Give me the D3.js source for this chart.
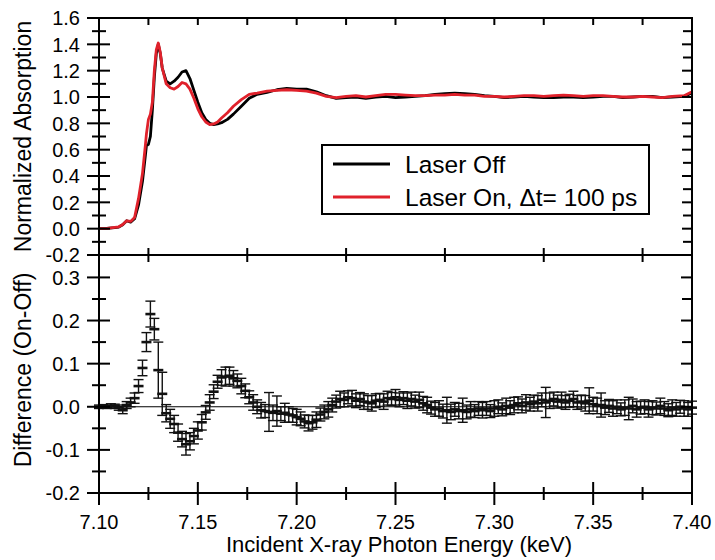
<!DOCTYPE html>
<html>
<head>
<meta charset="utf-8">
<script src="https://cdn.jsdelivr.net/npm/d3@7"></script>
<style>
  body { margin: 0; background: #fff; }
  text { font-family: "Liberation Sans", Arial, sans-serif; fill: #000; }
</style>
</head>
<body>
<div id="chart"></div>
<script>
// top panel: normalized absorption, laser off / laser on
const topE = [7.100, 7.104, 7.108, 7.110, 7.112, 7.114, 7.116, 7.118, 7.120, 7.122, 7.1235, 7.124, 7.125, 7.126, 7.127, 7.128, 7.129, 7.130, 7.131, 7.132, 7.134, 7.136, 7.138, 7.140, 7.142, 7.144, 7.146, 7.148, 7.150, 7.152, 7.154, 7.156, 7.158, 7.160, 7.162, 7.165, 7.168, 7.172, 7.176, 7.180, 7.185, 7.190, 7.195, 7.200, 7.205, 7.210, 7.215, 7.220, 7.225, 7.230, 7.235, 7.240, 7.245, 7.250, 7.255, 7.260, 7.265, 7.270, 7.275, 7.280, 7.285, 7.290, 7.295, 7.300, 7.305, 7.310, 7.315, 7.320, 7.325, 7.330, 7.335, 7.340, 7.345, 7.350, 7.355, 7.360, 7.365, 7.370, 7.375, 7.380, 7.385, 7.390, 7.396, 7.400];
const laserOff = [0.000, 0.002, 0.008, 0.012, 0.030, 0.060, 0.050, 0.075, 0.180, 0.360, 0.560, 0.630, 0.640, 0.700, 0.900, 1.150, 1.330, 1.400, 1.330, 1.220, 1.120, 1.100, 1.120, 1.150, 1.190, 1.200, 1.140, 1.050, 0.960, 0.880, 0.830, 0.800, 0.790, 0.795, 0.805, 0.830, 0.870, 0.930, 0.990, 1.020, 1.035, 1.055, 1.065, 1.060, 1.060, 1.040, 1.010, 0.990, 0.995, 1.000, 0.990, 1.000, 1.005, 0.995, 1.000, 1.005, 1.010, 1.020, 1.025, 1.030, 1.025, 1.020, 1.010, 1.005, 0.995, 1.000, 1.005, 1.000, 0.995, 0.995, 1.000, 1.000, 0.995, 1.000, 1.005, 1.005, 0.995, 1.000, 1.005, 1.005, 0.995, 1.000, 1.005, 1.030];
const laserOn = [0.000, 0.002, 0.010, 0.014, 0.032, 0.060, 0.055, 0.085, 0.230, 0.420, 0.640, 0.720, 0.830, 0.870, 0.960, 1.200, 1.360, 1.410, 1.340, 1.220, 1.100, 1.070, 1.060, 1.080, 1.110, 1.100, 1.060, 0.990, 0.910, 0.850, 0.810, 0.790, 0.795, 0.810, 0.840, 0.880, 0.930, 0.980, 1.020, 1.030, 1.045, 1.050, 1.055, 1.050, 1.045, 1.030, 1.005, 0.995, 1.005, 1.010, 1.000, 1.010, 1.020, 1.020, 1.015, 1.010, 1.010, 1.015, 1.015, 1.020, 1.015, 1.015, 1.005, 1.005, 1.000, 1.005, 1.010, 1.010, 1.005, 1.010, 1.015, 1.010, 1.005, 1.010, 1.010, 1.005, 1.000, 1.000, 1.005, 1.000, 0.995, 1.005, 1.010, 1.040];

// bottom panel: difference (on - off), 2 eV steps from 7.100 keV
const diffStart = 7.100;
const diffStep = 0.002;
const diffVal = [
  0.000, 0.001, 0.000, 0.002, 0.001, -0.002, -0.008, 0.004, 0.010, 0.020,
  0.048, 0.090, 0.150, 0.215, 0.180, 0.085, 0.030, -0.015, -0.028, -0.040,
  -0.060, -0.075, -0.087, -0.080, -0.068, -0.055, -0.036, -0.013, 0.010, 0.035,
  0.058, 0.068, 0.070, 0.072, 0.066, 0.060, 0.048, 0.037, 0.022, 0.010,
  0.000, -0.008, -0.010, -0.012, -0.014, -0.010, -0.016, -0.014, -0.018, -0.020,
  -0.024, -0.028, -0.034, -0.038, -0.036, -0.030, -0.018, -0.012, -0.006, 0.004,
  0.012, 0.018, 0.016, 0.022, 0.020, 0.014, 0.018, 0.012, 0.010, 0.008,
  0.014, 0.016, 0.012, 0.020, 0.018, 0.022, 0.016, 0.020, 0.014, 0.018,
  0.012, 0.016, 0.008, 0.004, -0.002, -0.006, -0.004, -0.010, -0.008, -0.012,
  -0.006, -0.010, -0.008, -0.012, -0.006, -0.010, -0.004, -0.008, -0.004, -0.010,
  -0.004, 0.000, -0.006, 0.002, -0.002, 0.004, 0.008, 0.002, 0.010, 0.006,
  0.012, 0.008, 0.016, 0.010, 0.014, 0.018, 0.012, 0.016, 0.010, 0.014,
  0.018, 0.010, 0.012, 0.008, 0.014, 0.006, 0.002, 0.004, -0.002, 0.002,
  -0.004, 0.000, -0.006, -0.002, -0.004, 0.002, -0.006, -0.002, 0.000, -0.006,
  -0.002, -0.004, 0.002, -0.004, -0.008, -0.002, -0.006, 0.000, -0.004, -0.006,
  -0.002];
const diffErr = [
  0.004, 0.004, 0.004, 0.005, 0.005, 0.006, 0.008, 0.008, 0.010, 0.012,
  0.015, 0.018, 0.022, 0.030, 0.025, 0.065, 0.050, 0.020, 0.022, 0.020,
  0.020, 0.018, 0.025, 0.020, 0.018, 0.020, 0.018, 0.016, 0.018, 0.016,
  0.015, 0.018, 0.022, 0.020, 0.018, 0.016, 0.018, 0.016, 0.015, 0.018,
  0.016, 0.018, 0.015, 0.045, 0.018, 0.035, 0.016, 0.022, 0.018, 0.016,
  0.018, 0.016, 0.015, 0.018, 0.016, 0.018, 0.015, 0.016, 0.018, 0.016,
  0.015, 0.018, 0.016, 0.015, 0.018, 0.016, 0.015, 0.018, 0.016, 0.018,
  0.016, 0.015, 0.018, 0.016, 0.015, 0.018, 0.016, 0.015, 0.018, 0.016,
  0.015, 0.018, 0.016, 0.018, 0.015, 0.016, 0.018, 0.016, 0.030, 0.018,
  0.016, 0.018, 0.028, 0.016, 0.018, 0.015, 0.016, 0.018, 0.016, 0.015,
  0.018, 0.016, 0.015, 0.018, 0.016, 0.018, 0.015, 0.016, 0.018, 0.016,
  0.015, 0.018, 0.016, 0.035, 0.018, 0.016, 0.015, 0.018, 0.016, 0.015,
  0.018, 0.016, 0.015, 0.018, 0.030, 0.016, 0.018, 0.028, 0.016, 0.015,
  0.018, 0.016, 0.015, 0.018, 0.026, 0.016, 0.018, 0.015, 0.016, 0.018,
  0.016, 0.015, 0.018, 0.016, 0.015, 0.018, 0.016, 0.015, 0.018, 0.016,
  0.015];

const xTicks = [7.10, 7.15, 7.20, 7.25, 7.30, 7.35, 7.40];
const topTicks = [-0.2, 0.0, 0.2, 0.4, 0.6, 0.8, 1.0, 1.2, 1.4, 1.6];
const botTicks = [-0.2, -0.1, 0.0, 0.1, 0.2, 0.3];
const legendLabels = ["Laser Off", "Laser On, \u0394t= 100 ps"];
const seriesColors = ["#000000", "#e0212b"];

const width = 715;
const height = 560;
const left = 99;
const right = 692;
const top1 = 18;
const mid = 255;
const bot2 = 493;

let svg = d3.select("#chart")
    .append("svg")
    .attr("width", width)
    .attr("height", height);

let x = d3.scaleLinear().domain([7.10, 7.40]).range([left, right]);
let yTop = d3.scaleLinear().domain([-0.2, 1.6]).range([mid, top1]);
let yBot = d3.scaleLinear().domain([-0.2, 0.352]).range([bot2, mid]);

function fmt1(d){ return d.toFixed(1); }
function fmt2(d){ return d.toFixed(2); }

// ---- top panel curves
let line = d3.line()
    .x((d, i) => x(topE[i]))
    .y(d => yTop(d));

[laserOff, laserOn].forEach(function(vals, k){
    svg.append("path")
        .datum(vals)
        .attr("d", line)
        .attr("fill", "none")
        .attr("stroke", seriesColors[k])
        .attr("stroke-width", 2.8)
        .attr("stroke-linejoin", "round");
});

// ---- bottom panel: zero line + error bars
svg.append("line")
    .attr("x1", left).attr("x2", right)
    .attr("y1", yBot(0)).attr("y2", yBot(0))
    .attr("stroke", "#000")
    .attr("stroke-width", 1.2);

let diff = diffVal.map((v, i) => ({e: diffStart + i * diffStep, v: v, err: diffErr[i]}));
let bars = svg.append("g")
    .attr("stroke", "#111")
    .attr("stroke-width", 1.4);
let cap = 5;
diff.forEach(function(d){
    let cx = x(d.e);
    let lo = yBot(d.v - d.err);
    let hi = yBot(d.v + d.err);
    bars.append("line").attr("x1", cx).attr("x2", cx).attr("y1", lo).attr("y2", hi);
    bars.append("line").attr("x1", cx - cap).attr("x2", cx + cap).attr("y1", lo).attr("y2", lo);
    bars.append("line").attr("x1", cx - cap).attr("x2", cx + cap).attr("y1", hi).attr("y2", hi);
    bars.append("line").attr("x1", cx - cap).attr("x2", cx + cap)
        .attr("y1", yBot(d.v)).attr("y2", yBot(d.v))
        .attr("stroke-width", 2.6);
});

// ---- frames
let axes = svg.append("g")
    .attr("stroke", "#000")
    .attr("stroke-width", 2)
    .attr("fill", "none");
axes.append("rect")
    .attr("x", left).attr("y", top1)
    .attr("width", right - left).attr("height", bot2 - top1);
axes.append("line")
    .attr("x1", left).attr("x2", right)
    .attr("y1", mid).attr("y2", mid);

function tick(x1, y1, x2, y2){
    axes.append("line").attr("x1", x1).attr("y1", y1).attr("x2", x2).attr("y2", y2);
}

// x ticks every 0.025
d3.range(0, 13).forEach(function(k){
    let e = 7.10 + k * 0.025;
    let px = x(e);
    let major = k % 2 === 0;
    // top edge, pointing down
    tick(px, top1, px, top1 + 7);
    // shared border between panels: only the half steps
    if(!major){
        tick(px, mid - 7, px, mid + 7);
    }
    // bottom edge, crossing
    if(major){
        tick(px, bot2 - 11, px, bot2 + 12);
    }else{
        tick(px, bot2 - 6, px, bot2 + 7);
    }
});

// top panel y ticks every 0.1
d3.range(0, 19).forEach(function(k){
    let v = -0.2 + k * 0.1;
    let py = yTop(v);
    let major = k % 2 === 0;
    if(major){
        tick(left - 12, py, left + 11, py);
        tick(right - 10, py, right, py);
    }else{
        tick(left - 7, py, left + 7, py);
        tick(right - 9, py, right, py);
    }
});

// bottom panel y ticks every 0.05
d3.range(0, 11).forEach(function(k){
    let v = -0.2 + k * 0.05;
    let py = yBot(v);
    let major = k % 2 === 0;
    if(major){
        tick(left - 12, py, left + 11, py);
        tick(right - 11, py, right, py);
    }else{
        tick(left - 7, py, left + 7, py);
        tick(right - 10, py, right, py);
    }
});

// ---- tick labels
svg.append("g")
    .selectAll("text")
    .data(topTicks)
    .join("text")
    .attr("x", 80)
    .attr("y", d => yTop(d))
    .attr("dy", "0.36em")
    .attr("text-anchor", "end")
    .style("font-size", "20px")
    .text(fmt1);

svg.append("g")
    .selectAll("text")
    .data(botTicks)
    .join("text")
    .attr("x", 80)
    .attr("y", d => yBot(d))
    .attr("dy", "0.36em")
    .attr("text-anchor", "end")
    .style("font-size", "20px")
    .text(fmt1);

svg.append("g")
    .selectAll("text")
    .data(xTicks)
    .join("text")
    .attr("x", d => x(d))
    .attr("y", 529)
    .attr("text-anchor", "middle")
    .style("font-size", "20px")
    .text(fmt2);

// ---- axis titles
svg.append("text")
    .attr("transform", "translate(31," + (top1 + mid) / 2 + ") rotate(-90)")
    .attr("text-anchor", "middle")
    .style("font-size", "23px")
    .text("Normalized Absorption");

svg.append("text")
    .attr("transform", "translate(31," + 370 + ") rotate(-90)")
    .attr("text-anchor", "middle")
    .style("font-size", "23px")
    .text("Difference (On-Off)");

svg.append("text")
    .attr("x", 399)
    .attr("y", 552)
    .attr("text-anchor", "middle")
    .style("font-size", "22px")
    .text("Incident X-ray Photon Energy (keV)");

// ---- legend
let legend = svg.append("g");
legend.append("rect")
    .attr("x", 322).attr("y", 145)
    .attr("width", 327).attr("height", 69)
    .attr("fill", "#fff")
    .attr("stroke", "#000")
    .attr("stroke-width", 2);
legendLabels.forEach(function(lbl, i){
    let ly = 164 + i * 33;
    legend.append("line")
        .attr("x1", 333).attr("x2", 390)
        .attr("y1", ly).attr("y2", ly)
        .attr("stroke", seriesColors[i])
        .attr("stroke-width", 3);
    legend.append("text")
        .attr("x", 405)
        .attr("y", ly)
        .attr("dy", "0.36em")
        .style("font-size", "24.5px")
        .text(lbl);
});
</script>
</body>
</html>
